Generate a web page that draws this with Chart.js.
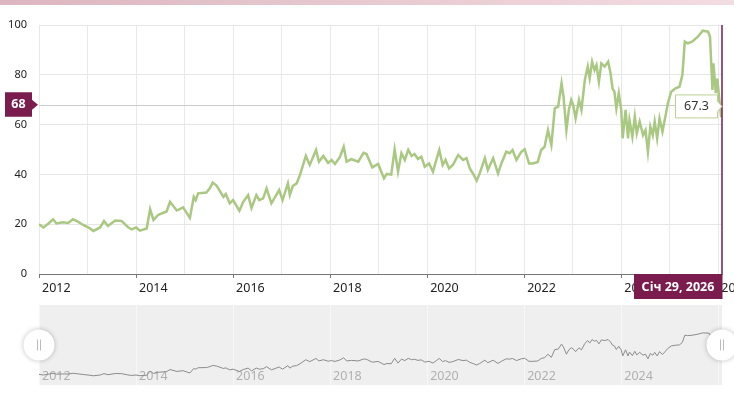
<!DOCTYPE html>
<html>
<head>
<meta charset="utf-8">
<script src="https://cdn.jsdelivr.net/npm/chart.js@4.4.0/dist/chart.umd.min.js"></script>
<style>
body { margin: 0; background: #fff; }
#faixa { position: absolute; left: 0; top: 0; width: 734px; height: 5px; background: linear-gradient(to right, #dcb6c0, #e9cbd2 55%, #f2dde2); z-index: 2; }
#caixaPrincipal { position: absolute; left: 0; top: 0; width: 734px; height: 300px; }
#caixaNavegador { position: absolute; left: 0; top: 300px; width: 734px; height: 99px; }
</style>
</head>
<body>
<div id="faixa"></div>
<div id="caixaPrincipal"><canvas id="graficoPrincipal"></canvas></div>
<div id="caixaNavegador"><canvas id="graficoNavegador"></canvas></div>
<script>
// anos decimais (semana aproximada) e valores
const anos = [
    2012.00, 2012.09, 2012.19, 2012.29, 2012.36, 2012.49, 2012.60, 2012.70, 2012.80, 2012.91,
    2013.05, 2013.12, 2013.26, 2013.34, 2013.42, 2013.57, 2013.70, 2013.83, 2013.91, 2014.00,
    2014.08, 2014.22, 2014.29, 2014.36, 2014.46, 2014.63, 2014.70, 2014.84, 2014.97, 2015.11,
    2015.19, 2015.23, 2015.28, 2015.45, 2015.52, 2015.58, 2015.66, 2015.80, 2015.85, 2015.93,
    2016.00, 2016.13, 2016.21, 2016.31, 2016.38, 2016.48, 2016.54, 2016.62, 2016.69, 2016.79,
    2016.95, 2017.02, 2017.13, 2017.17, 2017.23, 2017.31, 2017.38, 2017.50, 2017.58, 2017.71,
    2017.77, 2017.86, 2017.96, 2018.03, 2018.10, 2018.20, 2018.28, 2018.34, 2018.44, 2018.58,
    2018.69, 2018.75, 2018.87, 2018.99, 2019.11, 2019.17, 2019.26, 2019.33, 2019.40, 2019.47,
    2019.54, 2019.61, 2019.68, 2019.74, 2019.81, 2019.88, 2019.95, 2020.04, 2020.12, 2020.19,
    2020.25, 2020.32, 2020.38, 2020.45, 2020.53, 2020.64, 2020.74, 2020.81, 2020.88, 2020.96,
    2021.02, 2021.08, 2021.19, 2021.25, 2021.36, 2021.46, 2021.53, 2021.63, 2021.70, 2021.76,
    2021.84, 2021.94, 2022.01, 2022.10, 2022.18, 2022.28, 2022.35, 2022.42, 2022.49, 2022.56,
    2022.63, 2022.70, 2022.77, 2022.81, 2022.87, 2022.92, 2022.97, 2023.01, 2023.06, 2023.13,
    2023.18, 2023.25, 2023.31, 2023.35, 2023.40, 2023.45, 2023.49, 2023.54, 2023.59, 2023.66,
    2023.73, 2023.78, 2023.82, 2023.86, 2023.90, 2023.95, 2024.00, 2024.03, 2024.09, 2024.14,
    2024.17, 2024.23, 2024.28, 2024.32, 2024.38, 2024.45, 2024.50, 2024.55, 2024.60, 2024.65,
    2024.69, 2024.74, 2024.79, 2024.85, 2024.91, 2024.96, 2025.03, 2025.12, 2025.20, 2025.26,
    2025.31, 2025.37, 2025.46, 2025.58, 2025.68, 2025.79, 2025.83, 2025.88, 2025.90, 2025.95,
    2025.98, 2026.03, 2026.06, 2026.077
];
const valores = [
    20, 18.7, 20.2, 22, 20.3, 20.8, 20.5, 22, 21, 19.7,
    18.3, 17.3, 18.7, 21.3, 19.3, 21.5, 21.3, 18.9, 17.9, 18.7,
    17.4, 18.3, 26, 21.7, 23.8, 25.1, 29, 25.5, 26.8, 22.5,
    31, 29.7, 32.4, 32.7, 34.4, 36.7, 35.5, 31, 32.1, 28.4,
    29.7, 25.4, 29, 31.7, 26.5, 31.7, 29.7, 30.4, 34.4, 28.4,
    33.7, 29.7, 36.4, 31.7, 35.3, 36.4, 39.8, 47.4, 43.8, 49.8,
    45.1, 47.4, 44.6, 45.8, 44.2, 46.9, 51.1, 45.1, 46.1, 45.1,
    48.7, 48.2, 42.8, 44.2, 38.4, 40.2, 39.9, 50.1, 41.1, 48.5,
    45.8, 49.9, 47.4, 48.2, 46.2, 47.1, 43.1, 44.4, 41.1, 45.8,
    49.8, 43.8, 45.8, 42.4, 43.8, 47.8, 45.8, 46.5, 42.4, 39.8,
    37.5, 40.2, 46.5, 41.8, 46.5, 40.4, 44.4, 49.1, 48.5, 49.8,
    45.8, 49.1, 50.1, 44.4, 44.4, 45, 49.8, 51.1, 57.8, 51.8,
    66.5, 67.2, 76.6, 71.2, 57.8, 65.9, 69.9, 67.9, 62.5, 69.9,
    65.9, 77.9, 83.3, 78.6, 85.3, 81.9, 83.9, 77.2, 84.6, 83.3,
    85.3, 80.6, 74.6, 73.2, 66.5, 72.6, 65.9, 54.5, 65.9, 54.5,
    61.8, 55.1, 63.2, 56.5, 61.2, 55.8, 57.8, 49.1, 59.2, 55.8,
    61.2, 54.5, 62.5, 57.2, 63.2, 68.5, 73.2, 74.6, 75.2, 79.9,
    93.3, 92.6, 93.3, 95.3, 97.7, 97.3, 95.3, 73.9, 84.6, 72.6,
    78.5, 68.5, 63, 67.3
];
const rotulosAnos = [2012, 2014, 2016, 2018, 2020, 2022, 2024, 2026];
const rotulosNavegador = [2012, 2014, 2016, 2018, 2020, 2022, 2024];
const anoInicio = 2012;
const anoFim = 2026.077;
const valorCruz = 68;
const rotuloData = 'Січ 29, 2026';
const textoDica = '67.3';

const corLinha = '#a9c882';
const corRoxa = '#7b1c4e';
const fonte = '"Noto Sans", "DejaVu Sans", sans-serif';

Chart.defaults.font.family = fonte;

const pontos = anos.map((a, i) => ({ x: a, y: valores[i] }));

// linhas cruzadas, etiquetas roxas e a dica do ultimo ponto
const marcadores = {
    id: 'marcadores',
    beforeDatasetsDraw(chart) {
        const { ctx, chartArea: a, scales: { y } } = chart;
        const yc = Math.round(y.getPixelForValue(valorCruz)) + 0.5;
        ctx.save();
        ctx.strokeStyle = '#cccccc';
        ctx.lineWidth = 1;
        ctx.beginPath();
        ctx.moveTo(a.left, yc);
        ctx.lineTo(a.right, yc);
        ctx.stroke();
        ctx.restore();
    },
    afterDraw(chart) {
        const { ctx, chartArea: a, scales: { x, y } } = chart;
        const ult = anos.length - 1;
        const xp = x.getPixelForValue(anos[ult]);
        const yp = y.getPixelForValue(valores[ult]);
        const yc = y.getPixelForValue(valorCruz);
        ctx.save();

        ctx.strokeStyle = corRoxa;
        ctx.lineWidth = 1.5;
        ctx.beginPath();
        ctx.moveTo(xp, a.top);
        ctx.lineTo(xp, a.bottom);
        ctx.stroke();

        // etiqueta do eixo y
        ctx.fillStyle = corRoxa;
        ctx.beginPath();
        ctx.moveTo(5, yc - 12.5);
        ctx.lineTo(a.left - 7, yc - 12.5);
        ctx.lineTo(a.left - 7, yc - 5);
        ctx.lineTo(a.left - 1, yc);
        ctx.lineTo(a.left - 7, yc + 5);
        ctx.lineTo(a.left - 7, yc + 12);
        ctx.lineTo(5, yc + 12);
        ctx.closePath();
        ctx.fill();
        ctx.fillStyle = '#fff';
        ctx.font = 'bold 12.5px ' + fonte;
        ctx.textAlign = 'center';
        ctx.textBaseline = 'middle';
        ctx.fillText(String(valorCruz), (5 + a.left - 7) / 2, yc);

        // etiqueta do eixo x
        ctx.fillStyle = corRoxa;
        ctx.fillRect(xp - 88, a.bottom, 88.5, 25);
        ctx.fillStyle = '#fff';
        ctx.fillText(rotuloData, xp - 44, a.bottom + 13);

        // dica
        const dir = xp - 4.5;
        const esq = dir - 42;
        ctx.beginPath();
        ctx.moveTo(esq, yp - 11.5);
        ctx.lineTo(dir, yp - 11.5);
        ctx.lineTo(dir, yp - 5);
        ctx.lineTo(xp, yp);
        ctx.lineTo(dir, yp + 5);
        ctx.lineTo(dir, yp + 11.5);
        ctx.lineTo(esq, yp + 11.5);
        ctx.closePath();
        ctx.fillStyle = '#fff';
        ctx.fill();
        ctx.strokeStyle = '#b9d293';
        ctx.lineWidth = 1;
        ctx.stroke();
        ctx.fillStyle = '#333';
        ctx.font = '12.5px ' + fonte;
        ctx.fillText(textoDica, (esq + dir) / 2, yp + 0.5);
        ctx.restore();
    }
};

const fundoNavegador = {
    id: 'fundoNavegador',
    beforeDraw(chart) {
        const { ctx, chartArea: a } = chart;
        ctx.save();
        ctx.fillStyle = '#efefef';
        ctx.fillRect(a.left, a.top, a.right - a.left, a.bottom - a.top);
        ctx.restore();
    },
    beforeDatasetsDraw(chart) {
        const { ctx, chartArea: a, scales: { x } } = chart;
        ctx.save();
        ctx.fillStyle = '#b0b0b0';
        ctx.font = '12.5px ' + fonte;
        ctx.textAlign = 'left';
        ctx.textBaseline = 'middle';
        rotulosNavegador.forEach(ano => {
            ctx.fillText(String(ano), x.getPixelForValue(ano) + 3, a.bottom - 9);
        });
        ctx.restore();
    },
    afterDraw(chart) {
        const { ctx, chartArea: a } = chart;
        const cy = (a.top + a.bottom) / 2;
        ctx.save();
        [a.left, a.right].forEach(cx => {
            ctx.shadowColor = 'rgba(0,0,0,0.25)';
            ctx.shadowBlur = 5;
            ctx.fillStyle = '#fff';
            ctx.beginPath();
            ctx.arc(cx, cy, 15.5, 0, Math.PI * 2);
            ctx.fill();
            ctx.shadowColor = 'transparent';
            ctx.strokeStyle = '#bbbbbb';
            ctx.lineWidth = 1;
            ctx.beginPath();
            ctx.moveTo(cx - 1.5, cy - 5.5);
            ctx.lineTo(cx - 1.5, cy + 5.5);
            ctx.moveTo(cx + 1.5, cy - 5.5);
            ctx.lineTo(cx + 1.5, cy + 5.5);
            ctx.stroke();
        });
        ctx.restore();
    }
};

new Chart(document.getElementById('graficoPrincipal'), {
    type: 'line',
    data: {
        datasets: [{
            data: pontos,
            borderColor: corLinha,
            borderWidth: 2.5,
            pointRadius: 0,
            tension: 0
        }]
    },
    options: {
        responsive: true,
        maintainAspectRatio: false,
        animation: false,
        events: [],
        layout: { padding: { top: 25, right: 12, left: 0, bottom: 0 } },
        plugins: { legend: { display: false }, tooltip: { enabled: false } },
        scales: {
            x: {
                type: 'linear',
                min: anoInicio,
                max: anoFim,
                ticks: {
                    stepSize: 1,
                    includeBounds: false,
                    autoSkip: false,
                    maxRotation: 0,
                    align: 'start',
                    labelOffset: 3,
                    padding: 3,
                    color: '#222',
                    font: { size: 12.5 },
                    callback: v => rotulosAnos.includes(v) ? String(v) : ''
                },
                grid: {
                    color: '#e9e9e9',
                    tickLength: 4,
                    tickColor: c => c.tick && rotulosAnos.includes(c.tick.value) ? '#777' : 'rgba(0,0,0,0)'
                },
                border: { color: '#777' },
                afterFit: s => { s.height = 26; s.paddingLeft = 0; s.paddingRight = 0; }
            },
            y: {
                min: 0,
                max: 100,
                ticks: { stepSize: 20, padding: 12, color: '#222', font: { size: 11 } },
                grid: { color: '#e6e6e6', drawTicks: false },
                border: { display: false },
                afterFit: s => { s.width = 39; }
            }
        }
    },
    plugins: [marcadores]
});

new Chart(document.getElementById('graficoNavegador'), {
    type: 'line',
    data: {
        datasets: [{
            data: pontos,
            borderColor: '#8c8c8c',
            borderWidth: 1,
            pointRadius: 0,
            tension: 0
        }]
    },
    options: {
        responsive: true,
        maintainAspectRatio: false,
        animation: false,
        events: [],
        layout: { padding: { top: 5, right: 12, left: 39, bottom: 14 } },
        plugins: { legend: { display: false }, tooltip: { enabled: false } },
        scales: {
            x: {
                type: 'linear',
                min: anoInicio,
                max: anoFim,
                ticks: { stepSize: 1, includeBounds: false, autoSkip: false, display: false },
                grid: {
                    color: c => c.tick && rotulosAnos.includes(c.tick.value) ? '#f7f7f7' : 'rgba(0,0,0,0)',
                    drawTicks: false
                },
                border: { display: false },
                afterFit: s => { s.height = 0; s.paddingLeft = 0; s.paddingRight = 0; }
            },
            y: { display: false, min: 0, max: 150 }
        }
    },
    plugins: [fundoNavegador]
});
</script>
</body>
</html>
